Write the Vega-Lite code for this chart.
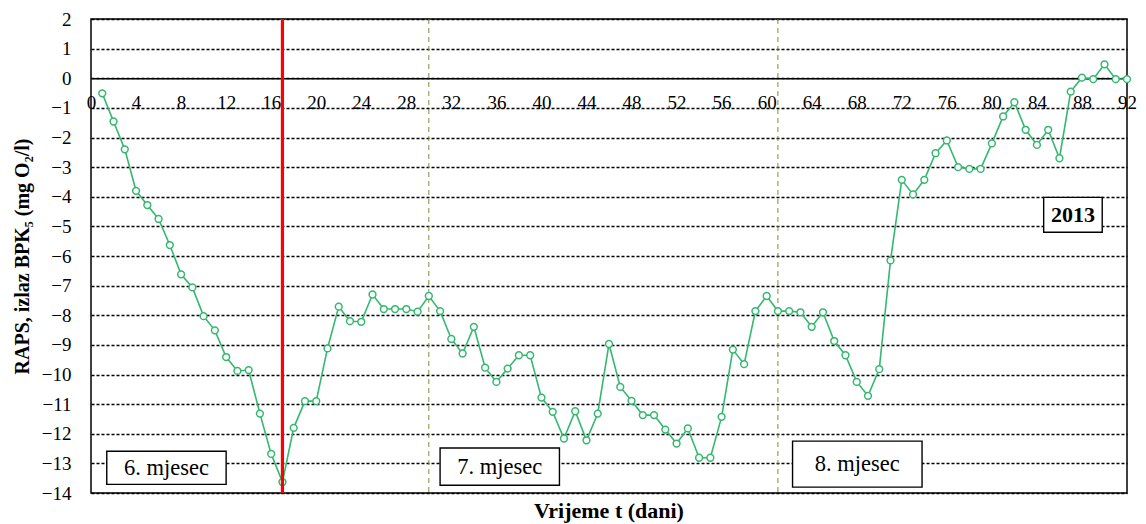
{
  "$schema": "https://vega.github.io/schema/vega-lite/v6.json",
  "width": 1036,
  "height": 474,
  "autosize": "none",
  "padding": {"left": 91, "top": 19, "right": 19, "bottom": 31},
  "background": "white",
  "config": {
    "view": {"stroke": "black", "strokeWidth": 1.5},
    "font": "Liberation Serif",
    "axisX": {
      "orient": "bottom", "offset": -414.75,
      "title": null, "grid": false, "ticks": false, "domainColor": "black", "domainWidth": 1.5,
      "labelFont": "Liberation Serif", "labelFontSize": 19, "labelColor": "black", "labelPadding": 15,
      "labelFlush": false, "labelOverlap": false
    },
    "axisY": {
      "values": [-14,-13,-12,-11,-10,-9,-8,-7,-6,-5,-4,-3,-2,-1,0,1,2],
      "titleFont": "Liberation Serif", "titleFontSize": 20,
      "titleFontWeight": "bold", "titleColor": "black", "titlePadding": 9,
      "grid": true, "gridColor": "black", "gridDash": [3, 2], "gridWidth": 1.4,
      "domain": false, "ticks": false, "labelFont": "Liberation Serif", "labelFontSize": 19,
      "labelColor": "black", "labelPadding": 20, "labelFlush": false, "labelOverlap": false
    }
  },
  "title": {
    "text": "Vrijeme t (dani)",
    "orient": "bottom",
    "font": "Liberation Serif",
    "fontSize": 22,
    "fontWeight": "bold",
    "color": "black",
    "offset": -2
  },
  "datasets": {
    "raps": [
      {"day": 1, "v": -0.51}, {"day": 2, "v": -1.46}, {"day": 3, "v": -2.40}, {"day": 4, "v": -3.80},
      {"day": 5, "v": -4.28}, {"day": 6, "v": -4.75}, {"day": 7, "v": -5.63}, {"day": 8, "v": -6.62},
      {"day": 9, "v": -7.06}, {"day": 10, "v": -8.03}, {"day": 11, "v": -8.51}, {"day": 12, "v": -9.41},
      {"day": 13, "v": -9.88}, {"day": 14, "v": -9.85}, {"day": 15, "v": -11.32}, {"day": 16, "v": -12.68},
      {"day": 17, "v": -13.63}, {"day": 18, "v": -11.80}, {"day": 19, "v": -10.90}, {"day": 20, "v": -10.90},
      {"day": 21, "v": -9.12}, {"day": 22, "v": -7.71}, {"day": 23, "v": -8.20}, {"day": 24, "v": -8.22},
      {"day": 25, "v": -7.30}, {"day": 26, "v": -7.79}, {"day": 27, "v": -7.79}, {"day": 28, "v": -7.79},
      {"day": 29, "v": -7.88}, {"day": 30, "v": -7.35}, {"day": 31, "v": -7.86}, {"day": 32, "v": -8.80},
      {"day": 33, "v": -9.29}, {"day": 34, "v": -8.39}, {"day": 35, "v": -9.77}, {"day": 36, "v": -10.25},
      {"day": 37, "v": -9.80}, {"day": 38, "v": -9.35}, {"day": 39, "v": -9.35}, {"day": 40, "v": -10.78},
      {"day": 41, "v": -11.26}, {"day": 42, "v": -12.16}, {"day": 43, "v": -11.24}, {"day": 44, "v": -12.22},
      {"day": 45, "v": -11.32}, {"day": 46, "v": -8.97}, {"day": 47, "v": -10.42}, {"day": 48, "v": -10.89},
      {"day": 49, "v": -11.37}, {"day": 50, "v": -11.37}, {"day": 51, "v": -11.86}, {"day": 52, "v": -12.33},
      {"day": 53, "v": -11.82}, {"day": 54, "v": -12.81}, {"day": 55, "v": -12.81}, {"day": 56, "v": -11.43},
      {"day": 57, "v": -9.16}, {"day": 58, "v": -9.65}, {"day": 59, "v": -7.86}, {"day": 60, "v": -7.35},
      {"day": 61, "v": -7.86}, {"day": 62, "v": -7.86}, {"day": 63, "v": -7.90}, {"day": 64, "v": -8.39},
      {"day": 65, "v": -7.90}, {"day": 66, "v": -8.87}, {"day": 67, "v": -9.35}, {"day": 68, "v": -10.25},
      {"day": 69, "v": -10.72}, {"day": 70, "v": -9.82}, {"day": 71, "v": -6.15}, {"day": 72, "v": -3.43},
      {"day": 73, "v": -3.92}, {"day": 74, "v": -3.43}, {"day": 75, "v": -2.53}, {"day": 76, "v": -2.10},
      {"day": 77, "v": -3.00}, {"day": 78, "v": -3.06}, {"day": 79, "v": -3.06}, {"day": 80, "v": -2.20},
      {"day": 81, "v": -1.29}, {"day": 82, "v": -0.81}, {"day": 83, "v": -1.74}, {"day": 84, "v": -2.25},
      {"day": 85, "v": -1.74}, {"day": 86, "v": -2.70}, {"day": 87, "v": -0.45}, {"day": 88, "v": 0.02},
      {"day": 89, "v": -0.03}, {"day": 90, "v": 0.47}, {"day": 91, "v": -0.03}, {"day": 92, "v": -0.03}
    ],
    "months": [
      {"day": 30},
      {"day": 61}
    ],
    "red": [
      {"day": 17}
    ],
    "boxes": [
      {"label": "6. mjesec", "x1": 1.4, "x2": 12.0, "y1": -12.59, "y2": -13.71, "xm": 6.7, "ym": -13.15},
      {"label": "7. mjesec", "x1": 31.0, "x2": 41.6, "y1": -12.48, "y2": -13.74, "xm": 36.3, "ym": -13.11},
      {"label": "8. mjesec", "x1": 62.3, "x2": 73.8, "y1": -12.25, "y2": -13.8, "xm": 68.05, "ym": -13.02}
    ],
    "yearbox": [
      {"label": "2013", "x1": 84.6, "x2": 89.8, "y1": -4.02, "y2": -5.2, "xm": 87.2, "ym": -4.61}
    ]
  },
  "layer": [
    {
      "data": {"name": "raps"},
      "mark": {"type": "line", "color": "#34b870", "strokeWidth": 1.6},
      "encoding": {
        "x": {"field": "day", "type": "quantitative", "scale": {"domain": [0, 92], "nice": false, "zero": false}, "title": null, "axis": {"values": [0,4,8,12,16,20,24,28,32,36,40,44,48,52,56,60,64,68,72,76,80,84,88,92]}},
        "y": {"field": "v", "type": "quantitative", "scale": {"domain": [-14, 2], "nice": false}, "title": "RAPS, izlaz BPK₅ (mg O₂/l)"}
      }
    },
    {
      "data": {"name": "months"},
      "mark": {"type": "rule", "color": "#7d8f3c", "strokeWidth": 1, "strokeDash": [5, 4]},
      "encoding": {"x": {"field": "day", "type": "quantitative", "title": null, "axis": {"values": [0,4,8,12,16,20,24,28,32,36,40,44,48,52,56,60,64,68,72,76,80,84,88,92]}}}
    },
    {
      "data": {"name": "raps"},
      "mark": {"type": "point", "shape": "circle", "filled": false, "fill": "white", "fillOpacity": 1, "stroke": "#34b870", "strokeWidth": 1.5, "size": 46, "opacity": 1},
      "encoding": {
        "x": {"field": "day", "type": "quantitative", "title": null, "axis": {"values": [0,4,8,12,16,20,24,28,32,36,40,44,48,52,56,60,64,68,72,76,80,84,88,92]}},
        "y": {"field": "v", "type": "quantitative", "title": "RAPS, izlaz BPK₅ (mg O₂/l)"}
      }
    },
    {
      "data": {"name": "red"},
      "mark": {"type": "rule", "color": "#ff0000", "strokeWidth": 3.2},
      "encoding": {"x": {"field": "day", "type": "quantitative", "title": null, "axis": {"values": [0,4,8,12,16,20,24,28,32,36,40,44,48,52,56,60,64,68,72,76,80,84,88,92]}}}
    },
    {
      "data": {"name": "boxes"},
      "mark": {"type": "rect", "fill": "white", "stroke": "black", "strokeWidth": 1.4},
      "encoding": {
        "x": {"field": "x1", "type": "quantitative", "title": null, "axis": {"values": [0,4,8,12,16,20,24,28,32,36,40,44,48,52,56,60,64,68,72,76,80,84,88,92]}},
        "x2": {"field": "x2"},
        "y": {"field": "y1", "type": "quantitative", "title": "RAPS, izlaz BPK₅ (mg O₂/l)"},
        "y2": {"field": "y2"}
      }
    },
    {
      "data": {"name": "boxes"},
      "mark": {"type": "text", "font": "Liberation Serif", "fontSize": 22.5, "color": "black", "align": "center", "baseline": "middle"},
      "encoding": {
        "x": {"field": "xm", "type": "quantitative", "title": null, "axis": {"values": [0,4,8,12,16,20,24,28,32,36,40,44,48,52,56,60,64,68,72,76,80,84,88,92]}},
        "y": {"field": "ym", "type": "quantitative", "title": "RAPS, izlaz BPK₅ (mg O₂/l)"},
        "text": {"field": "label"}
      }
    },
    {
      "data": {"name": "yearbox"},
      "mark": {"type": "rect", "fill": "white", "stroke": "black", "strokeWidth": 1.4},
      "encoding": {
        "x": {"field": "x1", "type": "quantitative", "title": null, "axis": {"values": [0,4,8,12,16,20,24,28,32,36,40,44,48,52,56,60,64,68,72,76,80,84,88,92]}},
        "x2": {"field": "x2"},
        "y": {"field": "y1", "type": "quantitative", "title": "RAPS, izlaz BPK₅ (mg O₂/l)"},
        "y2": {"field": "y2"}
      }
    },
    {
      "data": {"name": "yearbox"},
      "mark": {"type": "text", "font": "Liberation Serif", "fontSize": 22, "fontWeight": "bold", "color": "black", "align": "center", "baseline": "middle"},
      "encoding": {
        "x": {"field": "xm", "type": "quantitative", "title": null, "axis": {"values": [0,4,8,12,16,20,24,28,32,36,40,44,48,52,56,60,64,68,72,76,80,84,88,92]}},
        "y": {"field": "ym", "type": "quantitative", "title": "RAPS, izlaz BPK₅ (mg O₂/l)"},
        "text": {"field": "label"}
      }
    }
  ]
}
